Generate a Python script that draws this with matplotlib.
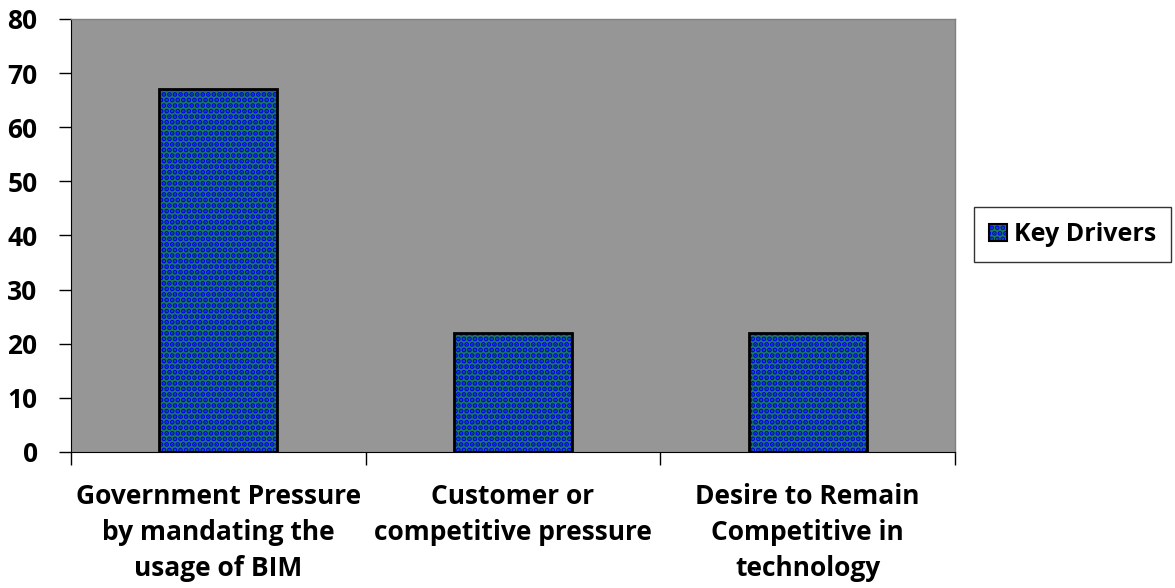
import matplotlib
matplotlib.use("Agg")
import matplotlib.pyplot as plt
from matplotlib.patches import Patch
import numpy as np

categories = ["Government Pressure\nby mandating the\nusage of BIM",
              "Customer or\ncompetitive pressure",
              "Desire to Remain\nCompetitive in\ntechnology"]
values = [67, 22, 22]
yticks = [0, 10, 20, 30, 40, 50, 60, 70, 80]
series_name = "Key Drivers"

plt.rcParams['font.family'] = ['Open Sans', 'DejaVu Sans']
plt.rcParams['font.weight'] = 'bold'
plt.rcParams['hatch.linewidth'] = 2.5

fig = plt.figure(figsize=(11.75, 5.88), dpi=100)
ax = fig.add_axes([0.0604, 0.2313, 0.7524, 0.7364])
ax.set_facecolor('#969696')

FACE = '#1c7a5c'
HATCH = '#0000ee'
x = np.arange(len(categories))
ax.bar(x, values, width=0.4, color=FACE, edgecolor=HATCH, hatch='...', linewidth=0, zorder=2)
ax.bar(x, values, width=0.4, fill=False, edgecolor='black', linewidth=2, zorder=3)

ax.set_xlim(-0.5, len(categories) - 0.5)
ax.set_ylim(0, 80)
ax.set_yticks(yticks)
ax.set_yticklabels([str(t) for t in yticks], fontsize=19, fontweight='bold')
ax.set_xticks(np.arange(-0.5, len(categories), 1.0))
ax.set_xticklabels([])
ax.set_xticks(x, minor=True)
ax.set_xticklabels(categories, minor=True, fontsize=19, fontweight='bold', linespacing=1.45)
ax.tick_params(axis='x', which='minor', length=0, pad=22)
ax.tick_params(axis='x', which='major', length=9, width=1, direction='out')
ax.tick_params(axis='y', length=9, width=1, direction='out', pad=15)

for s in ['top', 'right']:
    ax.spines[s].set_color('#808080')
    ax.spines[s].set_linewidth(1)
ax.spines['left'].set_color('black')
ax.spines['bottom'].set_color('black')

handle = Patch(facecolor=FACE, edgecolor=HATCH, hatch='...', linewidth=0)
handle2 = Patch(facecolor='none', edgecolor='black', linewidth=1.5)
leg = fig.legend([(handle, handle2)], [series_name], loc='center left',
                 bbox_to_anchor=(0.829, 0.601), fontsize=18, frameon=True,
                 fancybox=False, edgecolor='black', handlelength=0.7, handleheight=0.7,
                 handletextpad=0.3, borderpad=0.6, borderaxespad=0)
leg.get_frame().set_linewidth(1)
for t in leg.get_texts():
    t.set_fontweight('bold')

fig.savefig('out.png', dpi=100)
